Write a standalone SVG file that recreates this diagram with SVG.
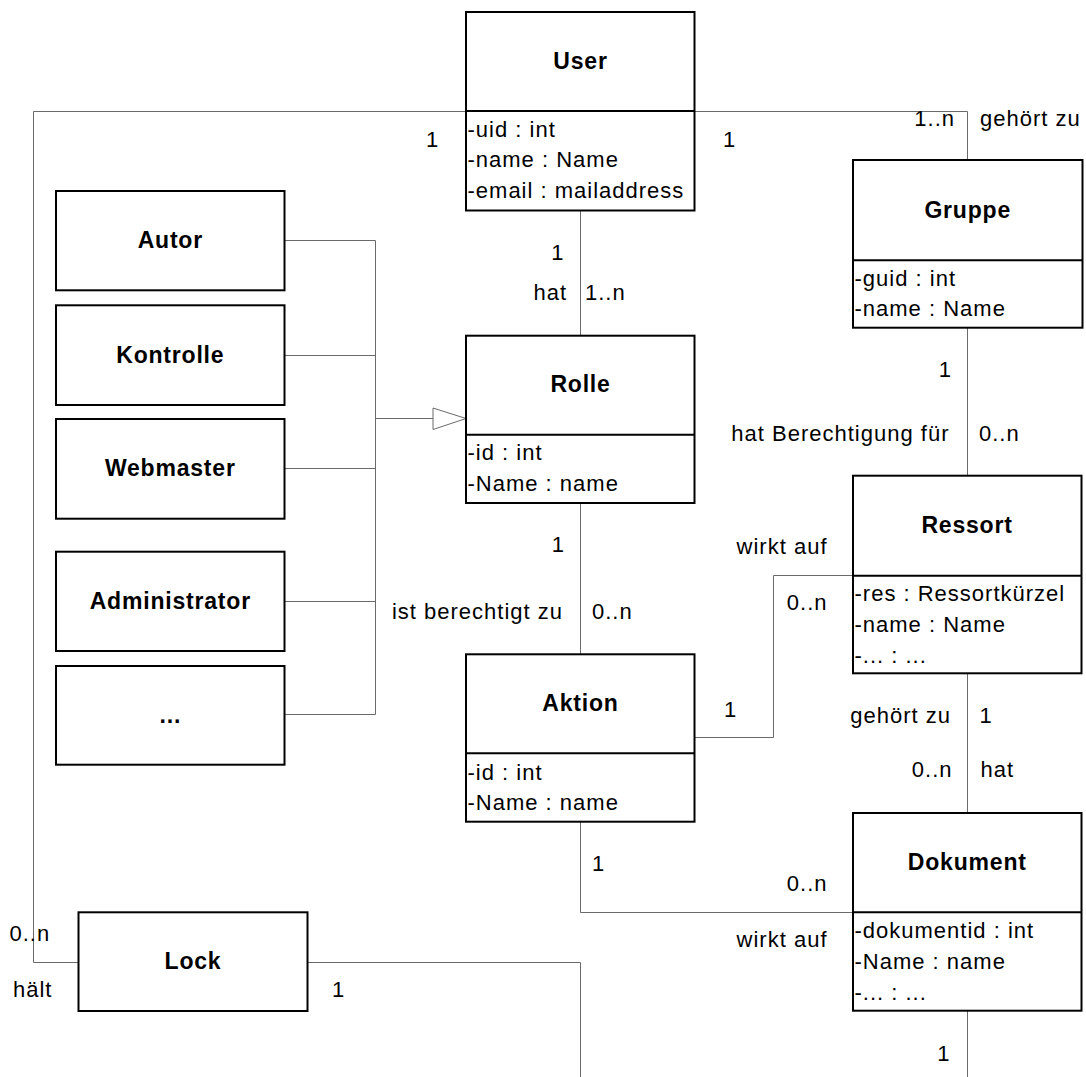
<svg xmlns="http://www.w3.org/2000/svg" width="1086" height="1077" viewBox="0 0 1086 1077">
  <style>
    .box{fill:#fff;stroke:#000;stroke-width:2}
    .sep{stroke:#000;stroke-width:2}
    .conn{fill:none;stroke:#6a6a6a;stroke-width:1}
    .gen{fill:#fff;stroke:#6a6a6a;stroke-width:1}
    text{font-family:"Liberation Sans",Arial,Helvetica,sans-serif;fill:#000}
    .t{font-size:22px;letter-spacing:1px}
    .e{text-anchor:end}
    .n{font-size:23px;font-weight:bold;letter-spacing:0.8px;text-anchor:middle}
  </style>

  <!-- associations and generalization lines -->
  <g id="connectors">
    <!-- User 1 .. 0..n Lock -->
    <polyline class="conn" points="466,111.5 33.5,111.5 33.5,962.5 78.5,962.5"/>
    <!-- User 1 .. 1..n Gruppe -->
    <polyline class="conn" points="694.5,111.5 967.5,111.5 967.5,160"/>
    <!-- User - Rolle -->
    <line class="conn" x1="580.5" y1="210.5" x2="580.5" y2="335.7"/>
    <!-- Rolle - Aktion -->
    <line class="conn" x1="580.5" y1="503" x2="580.5" y2="654.3"/>
    <!-- Gruppe - Ressort -->
    <line class="conn" x1="967.5" y1="327.7" x2="967.5" y2="475.7"/>
    <!-- Aktion - Ressort -->
    <polyline class="conn" points="694.5,737.5 773.5,737.5 773.5,575.5 852.7,575.5"/>
    <!-- Ressort - Dokument -->
    <line class="conn" x1="967.5" y1="673.3" x2="967.5" y2="813"/>
    <!-- Aktion - Dokument -->
    <polyline class="conn" points="580.5,821.7 580.5,912.5 853,912.5"/>
    <!-- Lock - Dokument (continues below) -->
    <polyline class="conn" points="307.7,962.5 580.5,962.5 580.5,1077"/>
    <!-- Dokument downward -->
    <line class="conn" x1="967.5" y1="1010.7" x2="967.5" y2="1077"/>

    <!-- generalization: roles to Rolle -->
    <line class="conn" x1="284.5" y1="240.5" x2="375.5" y2="240.5"/>
    <line class="conn" x1="284.5" y1="355.5" x2="375.5" y2="355.5"/>
    <line class="conn" x1="284.5" y1="468.5" x2="375.5" y2="468.5"/>
    <line class="conn" x1="284.5" y1="601.5" x2="375.5" y2="601.5"/>
    <line class="conn" x1="284.5" y1="714.5" x2="375.5" y2="714.5"/>
    <line class="conn" x1="375.5" y1="240.5" x2="375.5" y2="714.5"/>
    <line class="conn" x1="375.5" y1="418.5" x2="433" y2="418.5"/>
    <polygon class="gen" points="433,408 466,418.5 433,429.5"/>
  </g>

  <!-- multiplicities and role names -->
  <g id="labels">
    <text class="t" x="426" y="147">1</text>
    <text class="t" x="723" y="147">1</text>
    <text class="t e" x="955" y="126">1..n</text>
    <text class="t" x="980" y="126">gehört zu</text>

    <text class="t e" x="564.5" y="260">1</text>
    <text class="t e" x="567" y="300">hat</text>
    <text class="t" x="585" y="300">1..n</text>

    <text class="t e" x="565" y="552">1</text>
    <text class="t e" x="563" y="619">ist berechtigt zu</text>
    <text class="t" x="592" y="619">0..n</text>

    <text class="t e" x="952" y="377">1</text>
    <text class="t e" x="949.5" y="441">hat Berechtigung für</text>
    <text class="t" x="979" y="441">0..n</text>

    <text class="t e" x="827.5" y="554">wirkt auf</text>
    <text class="t e" x="827.5" y="610">0..n</text>
    <text class="t" x="724" y="717">1</text>

    <text class="t e" x="951" y="723">gehört zu</text>
    <text class="t" x="979.5" y="723">1</text>
    <text class="t e" x="952.5" y="777">0..n</text>
    <text class="t" x="980.5" y="777">hat</text>

    <text class="t" x="592" y="871">1</text>
    <text class="t e" x="827.5" y="891">0..n</text>
    <text class="t e" x="827.5" y="947">wirkt auf</text>
    <text class="t e" x="950.5" y="1061">1</text>

    <text class="t" x="9.5" y="941">0..n</text>
    <text class="t" x="13" y="997">hält</text>
    <text class="t" x="332" y="997">1</text>
  </g>

  <!-- classes -->
  <g id="user">
    <rect class="box" x="466" y="12" width="228.5" height="198.5"/>
    <line class="sep" x1="466" y1="111" x2="694.5" y2="111"/>
    <text class="n" x="580.5" y="69">User</text>
    <text class="t" x="467.5" y="137">-uid : int</text>
    <text class="t" x="467.5" y="167">-name : Name</text>
    <text class="t" x="467.5" y="197.5">-email : mailaddress</text>
  </g>

  <g id="gruppe">
    <rect class="box" x="853" y="160" width="229.5" height="167.7"/>
    <line class="sep" x1="853" y1="260.3" x2="1082.5" y2="260.3"/>
    <text class="n" x="967.7" y="217.5">Gruppe</text>
    <text class="t" x="854.5" y="285.5">-guid : int</text>
    <text class="t" x="854.5" y="315.5">-name : Name</text>
  </g>

  <g id="rolle">
    <rect class="box" x="466" y="335.7" width="228.5" height="167.3"/>
    <line class="sep" x1="466" y1="434.7" x2="694.5" y2="434.7"/>
    <text class="n" x="580.5" y="392">Rolle</text>
    <text class="t" x="467.5" y="460">-id : int</text>
    <text class="t" x="467.5" y="490.5">-Name : name</text>
  </g>

  <g id="ressort">
    <rect class="box" x="853" y="475.7" width="228.5" height="197.6"/>
    <line class="sep" x1="853" y1="575.7" x2="1081.5" y2="575.7"/>
    <text class="n" x="967" y="533">Ressort</text>
    <text class="t" x="854.5" y="601">-res : Ressortkürzel</text>
    <text class="t" x="854.5" y="632">-name : Name</text>
    <text class="t" x="854.5" y="663">-... : ...</text>
  </g>

  <g id="aktion">
    <rect class="box" x="466" y="654.3" width="228.5" height="167.4"/>
    <line class="sep" x1="466" y1="753.3" x2="694.5" y2="753.3"/>
    <text class="n" x="580.5" y="711">Aktion</text>
    <text class="t" x="467.5" y="779.5">-id : int</text>
    <text class="t" x="467.5" y="810">-Name : name</text>
  </g>

  <g id="dokument">
    <rect class="box" x="853" y="813" width="228.5" height="197.7"/>
    <line class="sep" x1="853" y1="912.3" x2="1081.5" y2="912.3"/>
    <text class="n" x="967.3" y="870">Dokument</text>
    <text class="t" x="854.5" y="937.5">-dokumentid : int</text>
    <text class="t" x="854.5" y="968.5">-Name : name</text>
    <text class="t" x="854.5" y="1000">-... : ...</text>
  </g>

  <g id="lock">
    <rect class="box" x="78.5" y="912.3" width="229" height="98.7"/>
    <text class="n" x="193" y="969">Lock</text>
  </g>

  <g id="autor">
    <rect class="box" x="56" y="191" width="228.5" height="99.3"/>
    <text class="n" x="170.3" y="248">Autor</text>
  </g>

  <g id="kontrolle">
    <rect class="box" x="56" y="305.3" width="228.5" height="99.7"/>
    <text class="n" x="170.3" y="362.5">Kontrolle</text>
  </g>

  <g id="webmaster">
    <rect class="box" x="56" y="419" width="228.5" height="99.7"/>
    <text class="n" x="170.3" y="476">Webmaster</text>
  </g>

  <g id="administrator">
    <rect class="box" x="56" y="551.7" width="228.5" height="99.3"/>
    <text class="n" x="170.3" y="608.5">Administrator</text>
  </g>

  <g id="weitere">
    <rect class="box" x="56" y="666" width="228.5" height="98.7"/>
    <text class="n" x="170.3" y="723">...</text>
  </g>
</svg>
